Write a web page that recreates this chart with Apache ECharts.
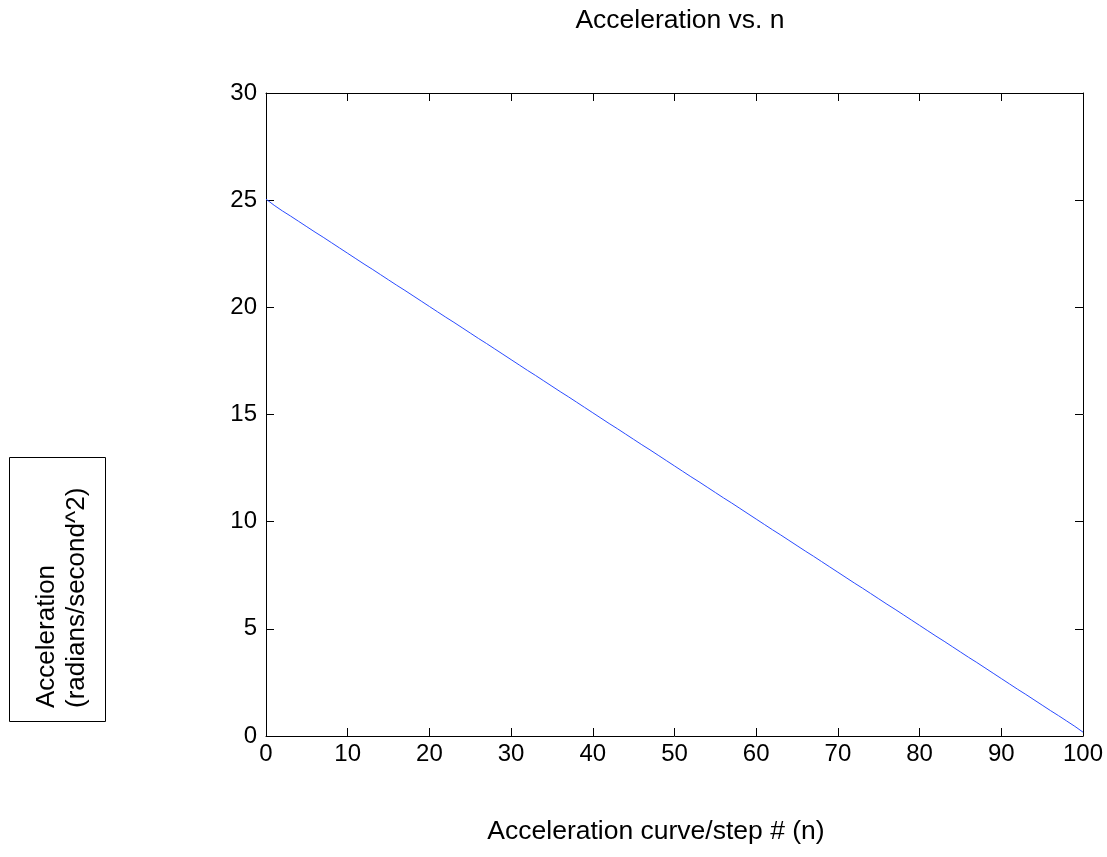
<!DOCTYPE html>
<html>
<head>
<meta charset="utf-8">
<script src="https://cdn.jsdelivr.net/npm/echarts@6/dist/echarts.min.js"></script>
<style>
html,body{margin:0;padding:0;background:#fff;}
#chart{width:1107px;height:857px;}
</style>
</head>
<body>
<div id="chart"></div>
<script>
const titleText = 'Acceleration vs. n';
const xAxisName = 'Acceleration curve/step # (n)';
const yAxisLines = ['Acceleration', '(radians/second^2)'];
const xTicks = [0, 10, 20, 30, 40, 50, 60, 70, 80, 90, 100];
const yTicks = [0, 5, 10, 15, 20, 25, 30];
const stepN = [];
for (let i = 0; i <= 100; i++) stepN.push(i);
const acceleration = [
  25.05, 24.76, 24.50, 24.26, 24.01, 23.76, 23.51, 23.27, 23.02, 22.77,
  22.52, 22.27, 22.02, 21.78, 21.53, 21.28, 21.03, 20.79, 20.54, 20.29,
  20.04, 19.79, 19.54, 19.30, 19.05, 18.80, 18.55, 18.31, 18.06, 17.81,
  17.56, 17.31, 17.06, 16.82, 16.57, 16.32, 16.07, 15.83, 15.58, 15.33,
  15.08, 14.83, 14.58, 14.34, 14.09, 13.84, 13.59, 13.35, 13.10, 12.85,
  12.60, 12.35, 12.10, 11.86, 11.61, 11.36, 11.11, 10.87, 10.62, 10.37,
  10.12, 9.87, 9.62, 9.38, 9.13, 8.88, 8.63, 8.39, 8.14, 7.89,
  7.64, 7.39, 7.14, 6.90, 6.65, 6.40, 6.15, 5.91, 5.66, 5.41,
  5.16, 4.91, 4.66, 4.42, 4.17, 3.92, 3.67, 3.43, 3.18, 2.93,
  2.68, 2.43, 2.18, 1.94, 1.69, 1.44, 1.19, 0.95, 0.70, 0.45,
  0.18
];

const FONT = '"Liberation Sans", Arial, Helvetica, sans-serif';
const chart = echarts.init(document.getElementById('chart'));
function axisCommon() {
  return {
    axisLine: { show: true, onZero: false, lineStyle: { color: '#000', width: 1 } },
    axisTick: { show: true, inside: true, length: 8, lineStyle: { color: '#000', width: 1 } },
    splitLine: { show: false }
  };
}
chart.setOption({
  backgroundColor: '#fff',
  animation: false,
  title: {
    text: titleText, left: 675, top: 2, textAlign: 'center',
    textStyle: { fontFamily: FONT, fontSize: 26.5, fontWeight: 'normal', color: '#000' }
  },
  grid: { left: 266, right: 24, top: 93, bottom: 121, containLabel: false },
  xAxis: [
    Object.assign({
      type: 'value', min: xTicks[0], max: xTicks[xTicks.length - 1], interval: 10, position: 'bottom',
      axisLabel: { fontFamily: FONT, fontSize: 24, color: '#000', margin: 6 }
    }, axisCommon()),
    Object.assign({
      type: 'value', min: xTicks[0], max: xTicks[xTicks.length - 1], interval: 10, position: 'top',
      axisLabel: { show: false }
    }, axisCommon())
  ],
  yAxis: [
    Object.assign({
      type: 'value', min: yTicks[0], max: yTicks[yTicks.length - 1], interval: 5, position: 'left',
      axisLabel: { fontFamily: FONT, fontSize: 24, color: '#000', margin: 9 }
    }, axisCommon()),
    Object.assign({
      type: 'value', min: yTicks[0], max: yTicks[yTicks.length - 1], interval: 5, position: 'right',
      axisLabel: { show: false }
    }, axisCommon())
  ],
  graphic: [
    { type: 'text', x: 656, y: 818, z: 11,
      style: { text: xAxisName, fontFamily: FONT, fontSize: 26.5, fill: '#000',
               align: 'center', verticalAlign: 'top' } },
    { type: 'rect', shape: { x: 9.5, y: 457.5, width: 96, height: 264 },
      style: { fill: '#fff', stroke: '#000', lineWidth: 1 }, z: 10 },
    { type: 'text', x: 62, y: 708, rotation: Math.PI / 2, z: 11,
      style: { text: yAxisLines.join('\n'), fontFamily: FONT, fontSize: 26, fill: '#000',
               align: 'left', verticalAlign: 'middle', lineHeight: 30 } }
  ],
  series: [{
    type: 'line', xAxisIndex: 0, yAxisIndex: 0,
    data: stepN.map((n, i) => [n, acceleration[i]]),
    showSymbol: false, symbol: 'none', smooth: false,
    lineStyle: { color: '#2a4bff', width: 1 }
  }]
});
</script>
</body>
</html>
